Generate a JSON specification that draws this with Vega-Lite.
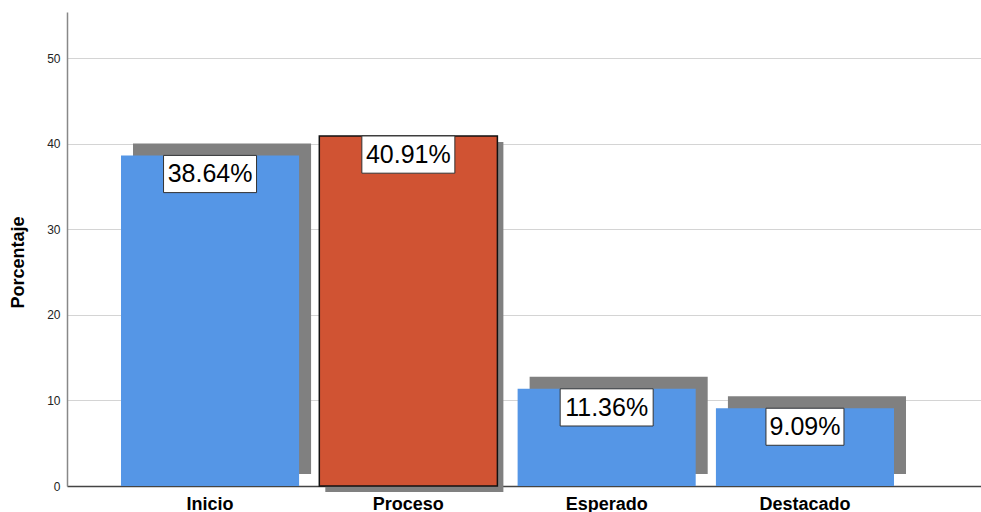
{
  "$schema": "https://vega.github.io/schema/vega-lite/v6.json",
  "autosize": {"type": "none"},
  "width": 914,
  "height": 474,
  "padding": {"left": 67, "top": 12, "right": 0, "bottom": 26},
  "background": "white",
  "config": {
    "view": {"stroke": null},
    "font": "Liberation Sans"
  },
  "data": {
    "values": [
      {"nivel": "Inicio", "porcentaje": 38.64, "etiqueta": "38.64%"},
      {"nivel": "Proceso", "porcentaje": 40.91, "etiqueta": "40.91%"},
      {"nivel": "Esperado", "porcentaje": 11.36, "etiqueta": "11.36%"},
      {"nivel": "Destacado", "porcentaje": 9.09, "etiqueta": "9.09%"}
    ]
  },
  "encoding": {
    "x": {
      "field": "nivel",
      "type": "nominal",
      "sort": ["Inicio", "Proceso", "Esperado", "Destacado"],
      "scale": {"paddingInner": 0.102, "paddingOuter": 0.3555, "align": 0.383},
      "axis": {
        "title": null,
        "labelAngle": 0,
        "labelFontSize": 18,
        "labelFontWeight": "bold",
        "labelColor": "#000000",
        "labelPadding": 9,
        "ticks": false,
        "domainColor": "#444444",
        "domainWidth": 1.5,
        "grid": false
      }
    },
    "y": {
      "field": "porcentaje",
      "type": "quantitative",
      "scale": {"domain": [0, 55.4], "nice": false},
      "axis": {
        "title": "Porcentaje",
        "titleFontSize": 18,
        "titleFontWeight": "bold",
        "titleColor": "#000000",
        "titleAngle": -90,
        "titleX": -49,
        "titleY": 250,
        "titleBaseline": "middle",
        "titleAlign": "center",
        "values": [0, 10, 20, 30, 40, 50],
        "labelFontSize": 12,
        "labelColor": "#222222",
        "labelPadding": 7,
        "ticks": false,
        "domainColor": "#888888",
        "domainWidth": 1.5,
        "grid": true,
        "gridColor": "#d4d4d4",
        "gridWidth": 1.2
      }
    }
  },
  "layer": [
    {
      "transform": [{"filter": "datum.nivel != 'Proceso'"}],
      "mark": {"type": "bar", "color": "#808080", "xOffset": 12, "yOffset": -12}
    },
    {
      "transform": [{"filter": "datum.nivel == 'Proceso'"}],
      "mark": {"type": "bar", "color": "#808080", "xOffset": 6, "yOffset": 6}
    },
    {
      "transform": [{"filter": "datum.nivel != 'Proceso'"}],
      "mark": {"type": "bar", "color": "#5596E6"}
    },
    {
      "transform": [{"filter": "datum.nivel == 'Proceso'"}],
      "mark": {"type": "bar", "color": "#D05333", "stroke": "#111111", "strokeWidth": 1.5}
    },
    {
      "transform": [{"filter": "datum.nivel != 'Destacado'"}],
      "mark": {"type": "point", "shape": "M-1,0H1V0.8H-1Z", "size": 8649, "filled": true, "fill": "white", "stroke": "#333333", "strokeWidth": 1, "opacity": 1}
    },
    {
      "transform": [{"filter": "datum.nivel == 'Destacado'"}],
      "mark": {"type": "point", "shape": "M-1,0H1V0.95H-1Z", "size": 6084, "filled": true, "fill": "white", "stroke": "#333333", "strokeWidth": 1, "opacity": 1}
    },
    {
      "mark": {"type": "text", "fontSize": 25, "color": "#000000", "baseline": "middle", "align": "center", "dy": 19},
      "encoding": {"text": {"field": "etiqueta"}}
    }
  ]
}
